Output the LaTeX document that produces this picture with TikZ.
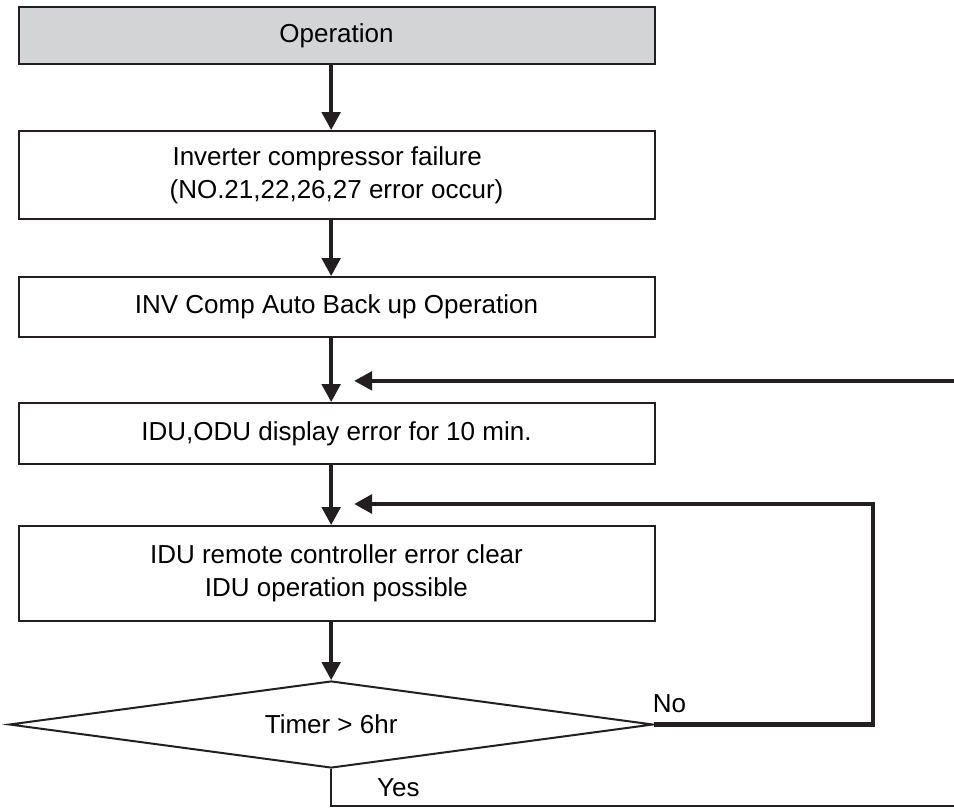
\documentclass[tikz,border=0pt]{standalone}
\usepackage{fontspec}
\setmainfont{Liberation Sans}
\usepackage{xcolor}
\usetikzlibrary{arrows.meta,positioning,shapes.geometric,calc}
\definecolor{inkblk}{RGB}{35,31,32}
\definecolor{opgray}{RGB}{211,212,214}
\tikzset{
  flowbox/.style={draw=inkblk, line width=1.5pt, minimum width=477pt,
    minimum height=45pt, inner sep=0pt, align=center,
    font=\fontsize{19.5}{24.5}\selectfont},
  startbox/.style={flowbox, fill=opgray},
  decbox/.style={diamond, draw=inkblk, line width=1.5pt, aspect=7.4,
    minimum width=483pt, minimum height=65.25pt, inner sep=0pt,
    font=\fontsize{19.5}{24.5}\selectfont},
  arrw/.style={-{Triangle[length=13.5pt,width=14pt]}, line width=2.6pt, draw=inkblk},
  loopw/.style={arrw, line width=3.2pt},
  yesln/.style={draw=inkblk, line width=1.6pt},
  lbl/.style={font=\fontsize{19.5}{24.5}\selectfont, inner sep=0pt},
}

\begin{document}
\begin{tikzpicture}[x=0.75pt, y=-0.75pt]
  \useasboundingbox (0,0) rectangle (954,808);

  \node[startbox, minimum height=42.75pt] (op) at (336.5,35.5) {Operation};
  \node[flowbox, minimum height=66pt, below=48.75pt of op] (fail)
    {Inverter compressor failure\hspace*{14pt}\\(NO.21,22,26,27 error occur)};
  \node[flowbox, minimum height=45pt, below=42pt of fail] (bkup)
    {INV Comp Auto Back up Operation};
  \node[flowbox, minimum height=45.75pt, below=48pt of bkup] (disp)
    {IDU,ODU display error for 10 min.};
  \node[flowbox, minimum height=71.25pt, below=45pt of disp] (clr)
    {IDU remote controller error clear\\IDU operation possible};
  \node[decbox, below=43.5pt of clr, xshift=-4pt] (timer) {Timer > 6hr};

  % joins of the two return lines
  \coordinate (edge) at (954,0);
  \coordinate (exit) at (954,806);
  \coordinate (j1) at ($(bkup.south -| timer.north)!0.67!(disp.north -| timer.north)$);
  \coordinate (j2) at ($(disp.south -| timer.north)!0.65!(clr.north -| timer.north)$);

  \draw[arrw] (op.south -| timer.north) -- (fail.north -| timer.north);
  \draw[arrw] (fail.south -| timer.north) -- (bkup.north -| timer.north);
  \draw[arrw] (bkup.south -| timer.north) -- (disp.north -| timer.north);
  \draw[arrw] (disp.south -| timer.north) -- (clr.north -| timer.north);
  \draw[arrw] (clr.south -| timer.north) -- (timer.north);

  \draw[arrw] (j1 -| edge) -- ($(j1)+(23,0)$);
  \draw[loopw] (timer.east) -- node[lbl, pos=0.07, above=7pt] {No} ++(219,0)
    |- ($(j2)+(23,0)$);
  \draw[yesln] (timer.south) |- node[lbl, pos=0.554, above=6pt] {Yes} (exit);
\end{tikzpicture}
\end{document}
